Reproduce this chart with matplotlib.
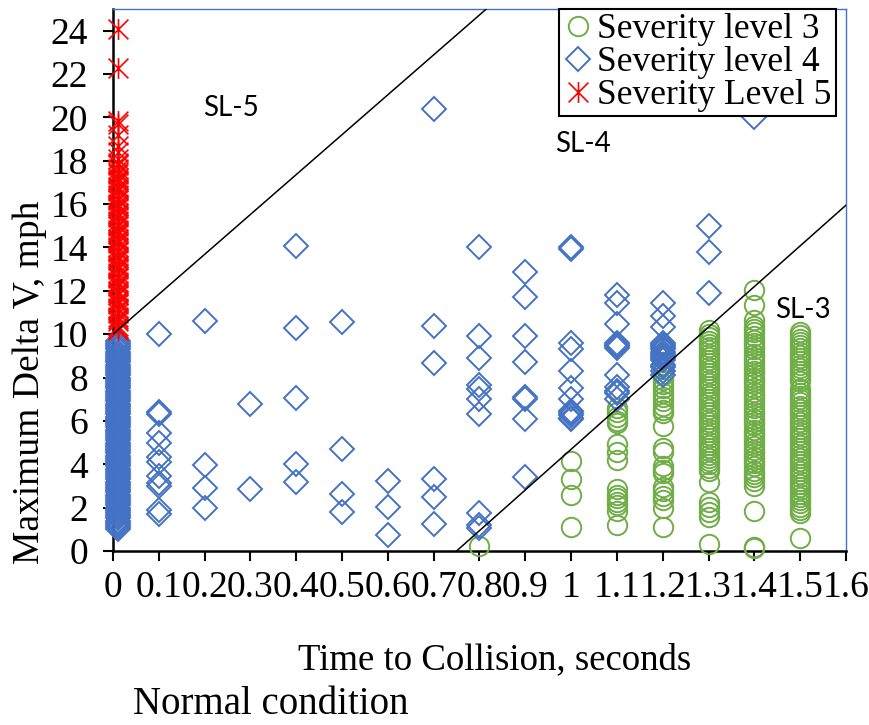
import numpy as np
import matplotlib
matplotlib.use("Agg")
import matplotlib.pyplot as plt
from matplotlib.path import Path

plt.rcParams['font.family'] = ['Liberation Serif', 'DejaVu Serif']

# ---- data (time to collision, s / max delta V, mph) ----
sl3_ttc = [0.8, 1.0, 1.1, 1.2, 1.3, 1.4, 1.5]
sl3_dv = [
    [0.25],
    [4.15, 3.3, 2.6, 1.1],
    [6.6, 6.4, 6.2, 6.0, 5.9, 4.95, 4.55, 4.2, 2.85, 2.6, 2.45, 2.25, 2.1, 1.85, 1.2],
    [9.3, 9.0, 8.7, 8.4, 8.1, 7.9, 7.7, 7.5, 7.3, 7.1, 6.9, 6.7, 6.5, 6.35, 5.75,
     4.75, 4.55, 3.9, 3.75, 3.6, 2.95, 2.75, 2.55, 2.35, 2.0, 1.1],
    [10.2, 10.0, 9.85, 9.7, 9.55, 9.4, 9.25, 9.1, 8.95, 8.8, 8.65, 8.5, 8.35, 8.2,
     8.05, 7.9, 7.75, 7.6, 7.45, 7.3, 7.15, 7.0, 6.85, 6.7, 6.55, 6.4, 6.25, 6.1,
     5.95, 5.8, 5.65, 5.5, 5.35, 5.2, 5.05, 4.9, 4.75, 4.6, 4.45, 4.3, 4.15, 4.0,
     3.85, 3.7, 3.2, 2.25, 2.05, 1.8, 1.55, 0.3],
    [12.05, 11.35, 10.65, 10.4, 10.25, 10.1, 9.9, 9.75, 9.6, 9.45, 9.3, 9.1, 8.95,
     8.8, 8.65, 8.5, 8.3, 8.15, 8.0, 7.85, 7.7, 7.5, 7.35, 7.2, 7.05, 6.9, 6.75,
     6.6, 6.4, 6.25, 6.1, 5.95, 5.8, 5.6, 5.45, 5.3, 5.15, 5.0, 4.85, 4.65, 4.5,
     4.35, 4.2, 4.05, 3.9, 3.7, 3.55, 3.4, 3.25, 3.0, 1.85, 0.2, 0.15],
    [10.1, 9.95, 9.8, 9.65, 9.5, 9.35, 9.2, 9.05, 8.9, 8.75, 8.6, 8.45, 8.3, 8.15,
     8.0, 7.85, 7.45, 7.3, 7.15, 7.0, 6.85, 6.7, 6.55, 6.4, 6.25, 6.1, 5.95, 5.8,
     5.65, 5.5, 5.35, 5.2, 5.05, 4.9, 4.75, 4.6, 4.45, 4.3, 4.15, 4.0, 3.85, 3.7,
     3.55, 3.4, 3.25, 3.1, 2.95, 2.8, 2.65, 2.5, 2.35, 2.2, 2.05, 1.9, 1.75, 0.6],
]

sl4_ttc = [0.01, 0.1, 0.2, 0.3, 0.4, 0.5, 0.6, 0.7, 0.8, 0.9, 1.0, 1.1, 1.2, 1.3, 1.4]
sl4_dv = [
    [1.0, 1.1, 1.2, 1.3, 1.4, 1.5, 1.6, 1.7, 1.8, 1.9, 2.0, 2.1, 2.2, 2.3, 2.4, 2.5,
     2.6, 2.7, 2.8, 2.9, 3.0, 3.1, 3.2, 3.3, 3.4, 3.5, 3.6, 3.7, 3.8, 3.9, 4.0, 4.1,
     4.2, 4.3, 4.4, 4.5, 4.6, 4.7, 4.8, 4.9, 5.0, 5.1, 5.2, 5.3, 5.4, 5.5, 5.6, 5.7,
     5.8, 5.9, 6.0, 6.1, 6.2, 6.3, 6.4, 6.5, 6.6, 6.7, 6.8, 6.9, 7.0, 7.1, 7.2, 7.3,
     7.4, 7.5, 7.6, 7.7, 7.8, 7.9, 8.0, 8.1, 8.2, 8.3, 8.4, 8.5, 8.6, 8.7, 8.8, 8.9,
     9.0, 9.1, 9.2, 9.3, 9.4, 9.5, 9.6, 9.7],
    [10.0, 6.4, 6.3, 5.45, 5.0, 4.35, 4.1, 3.45, 3.15, 3.0, 1.9, 1.7],
    [10.6, 3.95, 2.9, 2.0],
    [6.8, 2.85],
    [14.05, 10.3, 7.05, 4.0, 3.2],
    [10.55, 4.7, 2.65, 1.8],
    [3.25, 2.05, 0.75],
    [20.4, 10.4, 8.65, 3.3, 2.5, 1.25],
    [14.0, 9.9, 8.9, 7.65, 7.45, 7.0, 6.3, 1.75, 1.2, 1.05],
    [12.85, 11.7, 9.9, 8.7, 7.1, 7.0, 6.1, 3.4],
    [14.0, 13.95, 9.6, 9.3, 8.3, 7.5, 7.0, 6.45, 6.35, 6.25, 6.15, 6.1],
    [11.8, 11.45, 10.45, 9.6, 9.5, 9.45, 9.35, 8.1, 7.55, 7.4, 7.3, 7.0],
    [11.45, 10.85, 10.35, 9.6, 9.5, 9.4, 9.3, 9.2, 9.1, 9.0, 8.9, 8.8, 8.6, 8.5,
     8.3, 8.1],
    [15.0, 13.8, 11.9],
    [20.0],
]

sl5_ttc = [0.01]
sl5_dv = [
    [10.2, 10.3, 10.4, 10.6, 10.7, 10.8, 11.0, 11.1, 11.2, 11.4, 11.5, 11.6, 11.8,
     11.9, 12.0, 12.2, 12.3, 12.4, 12.6, 12.7, 12.8, 13.0, 13.1, 13.2, 13.4, 13.5,
     13.6, 13.8, 13.9, 14.0, 14.2, 14.3, 14.4, 14.6, 14.7, 14.8, 15.0, 15.1, 15.2,
     15.4, 15.5, 15.6, 15.8, 15.9, 16.0, 16.2, 16.3, 16.4, 16.6, 16.7, 16.8, 17.0,
     17.1, 17.2, 17.4, 17.5, 17.6, 17.8, 17.9, 18.1, 18.4, 18.7, 19.2, 19.7,
     19.85, 22.3, 24.1],
]

# boundary lines between severity zones (ttc, dv end points)
sl5_line_ttc = [0.0, 0.815]
sl5_line_dv = [10.0, 25.0]
sl3_line_ttc = [0.75, 1.6]
sl3_line_dv = [0.0, 15.95]

zone_labels = ['SL-5', 'SL-4', 'SL-3']
zone_ttc = [0.258, 1.026, 1.507]
zone_dv = [20.45, 18.75, 11.1]


def expand(ttc, dv):
    xs = np.concatenate([np.full(len(v), t) for t, v in zip(ttc, dv)])
    ys = np.concatenate([np.asarray(v, float) for v in dv])
    return xs, ys


x3, y3 = expand(sl3_ttc, sl3_dv)
x4, y4 = expand(sl4_ttc, sl4_dv)
x5, y5 = expand(sl5_ttc, sl5_dv)

green = '#70AD47'
blue = '#4472C4'
red = '#FF0000'

# excel style asterisk: vertical bar plus an X
star = Path([(0, -1), (0, 1), (-0.95, -0.95), (0.95, 0.95), (-0.95, 0.95), (0.95, -0.95)],
            [Path.MOVETO, Path.LINETO, Path.MOVETO, Path.LINETO, Path.MOVETO, Path.LINETO])

fig = plt.figure(figsize=(8.69, 7.25), dpi=100)
ax = fig.add_axes([0.1300, 0.240, 0.8435, 0.7476])

ax.plot(x3, y3, 'o', ms=14, mfc='none', mec=green, mew=1.4,
        label='Severity level 3', clip_on=False, zorder=3)
ax.plot(x4, y4, 'D', ms=12.3, mfc='none', mec=blue, mew=1.4,
        label='Severity level 4', clip_on=False, zorder=4)
ax.plot(x5, y5, linestyle='none', marker=star, ms=15, mfc='none', mec=red, mew=1.2,
        label='Severity Level 5', clip_on=False, zorder=5)

ax.plot(sl5_line_ttc, sl5_line_dv, color='black', lw=1.1, zorder=6)
ax.plot(sl3_line_ttc, sl3_line_dv, color='black', lw=1.1, zorder=6)

for lab, tx, ty in zip(zone_labels, zone_ttc, zone_dv):
    ax.text(tx, ty, lab, fontsize=20, family='Lato', ha='center', va='center', zorder=7)

ax.set_xlim(0, 1.6)
ax.set_ylim(0, 25)
xt = np.round(np.arange(0, 1.61, 0.1), 1)
ax.set_xticks(xt)
ax.set_xticklabels(['%g' % v for v in xt])
ax.set_yticks(np.arange(0, 25, 2))
ax.tick_params(axis='both', direction='out', length=7, width=1.5, labelsize=27, colors='black')
ax.tick_params(axis='x', pad=7)
ax.tick_params(axis='y', pad=11)

for s in ['left', 'bottom']:
    ax.spines[s].set_color('black')
    ax.spines[s].set_linewidth(1.8)
for s in ['top', 'right']:
    ax.spines[s].set_color(blue)
    ax.spines[s].set_linewidth(1.0)

leg = ax.legend(loc='upper right', bbox_to_anchor=(0.9864, 1.0), borderaxespad=0,
                fontsize=25.5, frameon=True, fancybox=False, framealpha=1,
                edgecolor='black', handlelength=0.8, handletextpad=0.15,
                labelspacing=0.0, borderpad=0.12, numpoints=1)
leg.get_frame().set_linewidth(1.5)
leg.set_zorder(10)

fig.text(0.5696, 0.0897, 'Time to Collision, seconds', fontsize=26.5, ha='center', va='center')
fig.text(0.0345, 0.473, 'Maximum Delta V, mph', fontsize=27, rotation=90,
         ha='center', va='center')
fig.text(0.153, 0.0276, 'Normal condition', fontsize=28, ha='left', va='center')

fig.savefig('out.png', dpi=100)
